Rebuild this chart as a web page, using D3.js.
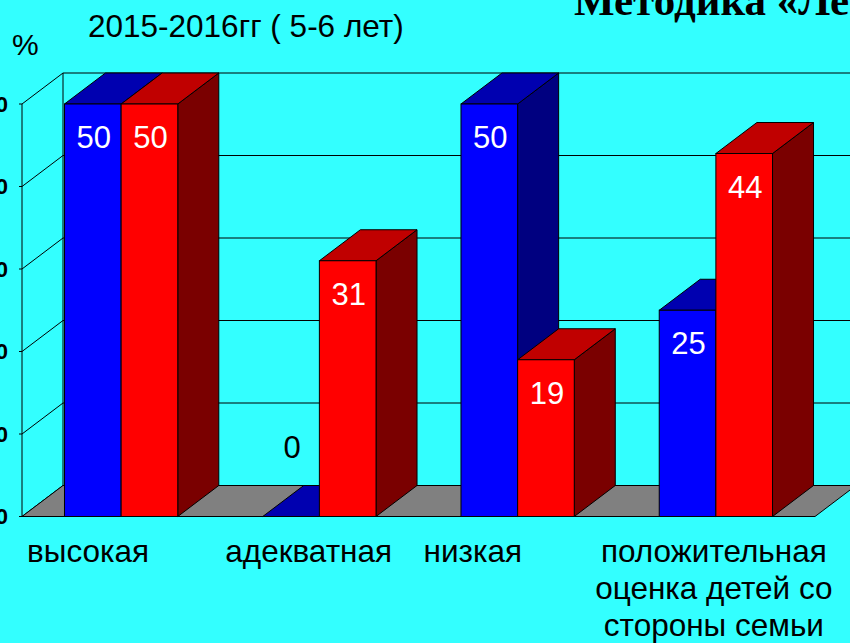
<!DOCTYPE html>
<html>
<head>
<meta charset="utf-8">
<script src="https://cdn.jsdelivr.net/npm/d3@7"></script>
<style>
  body { margin: 0; background: #33ffff; }
  text { font-family: "Liberation Sans", Arial, sans-serif; }
</style>
</head>
<body>
<div id="chart"></div>
<script>
// data
var categories = ["высокая", "адекватная", "низкая", "положительная оценка детей со стороны семьи"];
var categoryLines = [["высокая"], ["адекватная"], ["низкая"], ["положительная", "оценка детей со", "стороны семьи"]];
var seriesNames = ["blue", "red"];
var blueValues = [50, 0, 50, 25];
var redValues = [50, 31, 19, 44];
var yTicks = [0, 10, 20, 30, 40, 50];
var titleText = "2015-2016гг ( 5-6 лет)";
var headText = "Методика «Лесенка»";

var width = 850, height = 643;
var depthX = 41, depthY = -31;   // 3d offset of the back plane

var svg = d3.select("#chart").append("svg")
    .attr("width", width)
    .attr("height", height);

var x0 = d3.scaleBand()
    .domain(categories)
    .range([22, 815]);

var x1 = d3.scaleBand()
    .domain(seriesNames)
    .range([0, x0.bandwidth()])
    .paddingOuter(0.75);

var y = d3.scaleLinear()
    .domain([0, 50])
    .range([516.5, 104]);

var colors = {
  blue: {front: "#0000ff", top: "#0000b0", side: "#000080"},
  red: {front: "#ff0000", top: "#c00000", side: "#7a0000"}
};

// WALLS
var walls = svg.append("g").attr("stroke", "#000").attr("stroke-width", 1);

// back wall grid lines
walls.selectAll(".grid")
    .data(yTicks.filter(function(t) { return t > 0; }))
  .enter().append("line")
    .attr("x1", 22 + depthX).attr("x2", 815 + depthX)
    .attr("y1", function(d) { return y(d) + depthY; })
    .attr("y2", function(d) { return y(d) + depthY; });

// left wall diagonals
walls.selectAll(".diag")
    .data(yTicks)
  .enter().append("line")
    .attr("x1", 22).attr("x2", 22 + depthX)
    .attr("y1", function(d) { return y(d); })
    .attr("y2", function(d) { return y(d) + depthY; });

walls.append("line")
    .attr("x1", 22 + depthX).attr("x2", 22 + depthX)
    .attr("y1", y(0) + depthY).attr("y2", y(50) + depthY);

walls.append("line")
    .attr("x1", 22).attr("x2", 22)
    .attr("y1", y(0)).attr("y2", y(50));

// floor
walls.append("polygon")
    .attr("fill", "#808080")
    .attr("points", [
      [22, y(0)], [815, y(0)], [815 + depthX, y(0) + depthY], [22 + depthX, y(0) + depthY]
    ].join(" "));

// ticks + labels (clipped on the left like the original)
walls.selectAll(".tick")
    .data(yTicks)
  .enter().append("line")
    .attr("x1", 19).attr("x2", 22)
    .attr("y1", function(d) { return y(d); })
    .attr("y2", function(d) { return y(d); });

svg.selectAll(".tlabel")
    .data(yTicks)
  .enter().append("text")
    .attr("x", 8)
    .attr("y", function(d) { return y(d); })
    .attr("dy", "0.35em")
    .attr("text-anchor", "end")
    .attr("font-size", "22px")
    .attr("font-weight", "bold")
    .text(function(d) { return d; });

// BARS
var rows = [];
categories.forEach(function(c, i) {
  rows.push({cat: c, s: "blue", v: blueValues[i]});
  rows.push({cat: c, s: "red", v: redValues[i]});
});

var bars = svg.selectAll(".bar")
    .data(rows)
  .enter().append("g")
    .attr("stroke", "#000")
    .attr("stroke-width", 1);

function barLeft(d) { return x0(d.cat) + x1(d.s); }

bars.append("polygon")   // right side
    .attr("fill", function(d) { return colors[d.s].side; })
    .attr("points", function(d) {
      var l = barLeft(d) + x1.bandwidth(), t = y(d.v), b = y(0);
      return [[l, b], [l, t], [l + depthX, t + depthY], [l + depthX, b + depthY]].join(" ");
    });

bars.append("polygon")   // top
    .attr("fill", function(d) { return colors[d.s].top; })
    .attr("points", function(d) {
      var l = barLeft(d), r = l + x1.bandwidth(), t = y(d.v);
      return [[l, t], [r, t], [r + depthX, t + depthY], [l + depthX, t + depthY]].join(" ");
    });

bars.append("rect")      // front
    .attr("fill", function(d) { return colors[d.s].front; })
    .attr("x", barLeft)
    .attr("y", function(d) { return y(d.v); })
    .attr("width", x1.bandwidth())
    .attr("height", function(d) { return y(0) - y(d.v); });

svg.selectAll(".vlabel")
    .data(rows)
  .enter().append("text")
    .attr("x", function(d) { return barLeft(d) + x1.bandwidth() / 2 + 1; })
    .attr("y", function(d) { return d.v > 0 ? y(d.v) + 44 : y(0) - 59; })
    .attr("text-anchor", "middle")
    .attr("font-size", "31px")
    .attr("fill", function(d) { return d.v > 0 ? "#fff" : "#000"; })
    .text(function(d) { return d.v; });

// CATEGORY LABELS
categoryLines.forEach(function(lines, i) {
  var c = categories[i];
  var multi = lines.length > 1;
  var t = svg.append("text")
      .attr("font-size", "31.5px")
      .attr("text-anchor", multi ? "middle" : "start");
  lines.forEach(function(line, j) {
    t.append("tspan")
        .attr("x", multi ? x0(c) + x0.bandwidth() / 2 - 2 : x0(c) + 5)
        .attr("y", 562 + j * 37)
        .text(line);
  });
});

// TITLES
svg.append("text")
    .attr("x", 88).attr("y", 37)
    .attr("font-size", "31.5px")
    .text(titleText);

svg.append("text")
    .attr("x", 12).attr("y", 55)
    .attr("font-size", "30px")
    .text("%");

svg.append("text")
    .attr("x", 574).attr("y", 15)
    .attr("font-size", "43px")
    .attr("font-weight", "bold")
    .style("font-family", "'Liberation Serif', 'Times New Roman', serif")
    .text(headText);
</script>
</body>
</html>
